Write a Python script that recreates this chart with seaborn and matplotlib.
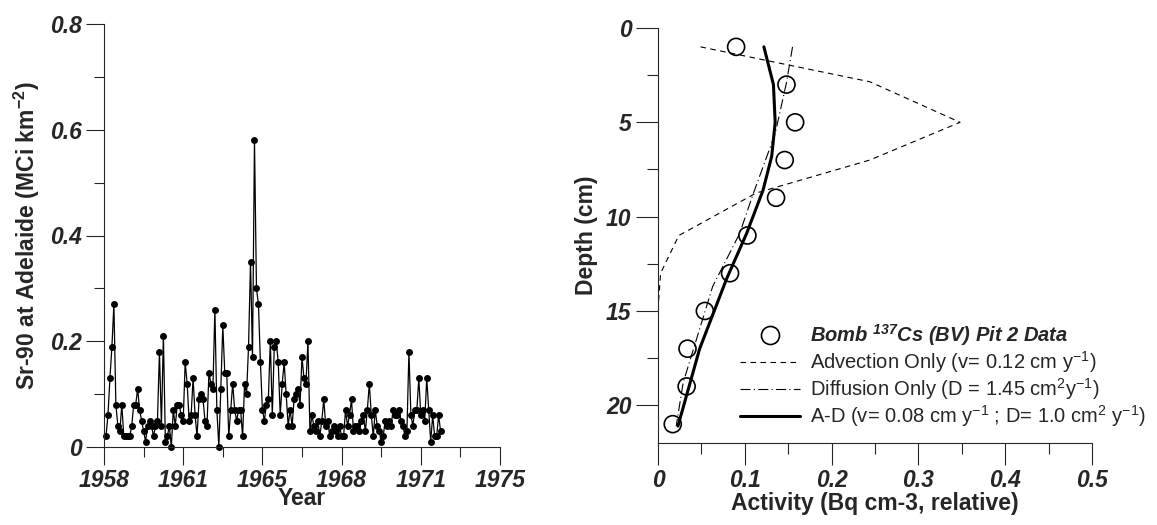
import matplotlib.pyplot as plt
import numpy as np
import seaborn as sns
from matplotlib.lines import Line2D
from matplotlib.ticker import MultipleLocator

# Sr-90 fallout at Adelaide (monthly samples)
SR90 = [
    0.02, 0.06, 0.13, 0.19, 0.27, 0.08, 0.04, 0.03, 0.08, 0.02, 0.02, 0.02, 0.02, 0.04,
    0.08, 0.08, 0.11, 0.07, 0.05, 0.03, 0.01, 0.04, 0.05, 0.04, 0.02, 0.04, 0.05, 0.18,
    0.04, 0.21, 0.01, 0.02, 0.04, 0.00, 0.07, 0.04, 0.08, 0.08, 0.06, 0.05, 0.16, 0.12,
    0.05, 0.06, 0.13, 0.06, 0.02, 0.09, 0.10, 0.09, 0.05, 0.04, 0.14, 0.12, 0.11, 0.26,
    0.07, 0.00, 0.11, 0.23, 0.14, 0.14, 0.02, 0.07, 0.12, 0.07, 0.05, 0.07, 0.07, 0.02,
    0.12, 0.10, 0.19, 0.35, 0.17, 0.58, 0.30, 0.27, 0.16, 0.07, 0.05, 0.08, 0.09, 0.20,
    0.06, 0.19, 0.20, 0.16, 0.06, 0.12, 0.16, 0.10, 0.04, 0.07, 0.04, 0.09, 0.10, 0.11,
    0.08, 0.17, 0.13, 0.12, 0.20, 0.03, 0.06, 0.04, 0.03, 0.05, 0.02, 0.05, 0.09, 0.04,
    0.05, 0.02, 0.03, 0.04, 0.03, 0.02, 0.04, 0.02, 0.02, 0.07, 0.04, 0.06, 0.09, 0.03,
    0.04, 0.04, 0.03, 0.05, 0.06, 0.03, 0.07, 0.12, 0.06, 0.02, 0.07, 0.04, 0.03, 0.01,
    0.02, 0.05, 0.04, 0.05, 0.04, 0.07, 0.06, 0.06, 0.07, 0.05, 0.04, 0.02, 0.03, 0.18,
    0.06, 0.04, 0.07, 0.07, 0.13, 0.06, 0.07, 0.05, 0.13, 0.07, 0.01, 0.06, 0.02, 0.02,
    0.06, 0.03,
]
YEAR_LABELS = ["1958", "1961", "1965", "1968", "1971", "1975"]

# 137Cs pit profile
PIT_DEPTH = [1, 3, 5, 7, 9, 11, 13, 15, 17, 19, 21]
PIT_ACTIVITY = [0.09, 0.148, 0.158, 0.146, 0.136, 0.103, 0.083, 0.054, 0.034, 0.033, 0.017]

ADV_DEPTH = [1, 2.85, 5, 7, 8.75, 11, 13, 14.9, 22]
ADV_ACTIVITY = [0.049, 0.244, 0.348, 0.244, 0.113, 0.024, 0.003, 0.0, 0.0]

DIF_DEPTH = [1, 2.9, 5.6, 8.75, 10.9, 13.7, 18.8, 21.1]
DIF_ACTIVITY = [0.155, 0.148, 0.135, 0.11, 0.094, 0.063, 0.029, 0.021]

AD_DEPTH = [1, 3, 5, 6.8, 8.6, 10.9, 13.3, 17, 21.1]
AD_ACTIVITY = [0.122, 0.133, 0.135, 0.131, 0.121, 0.102, 0.079, 0.048, 0.023]

sns.set_style("ticks")
plt.rcParams["font.family"] = ["Liberation Sans", "DejaVu Sans"]

fig = plt.figure(figsize=(11.57, 5.25), dpi=100)
ax1 = fig.add_axes([104 / 1157, 1 - 447 / 525, 396 / 1157, 423 / 525])
ax2 = fig.add_axes([658 / 1157, 1 - 443 / 525, 434 / 1157, 415 / 525])

tick_font = dict(fontsize=16.5, fontweight="bold", fontstyle="italic")
label_font = dict(fontsize=16.5, fontweight="bold")

# left panel
x_idx = np.arange(1, len(SR90) + 1)
sns.lineplot(x=x_idx, y=SR90, ax=ax1, color="black", linewidth=0.9,
             marker="o", markersize=5, markeredgewidth=0)
ax1.set_xlim(0, 200)
ax1.set_ylim(0, 0.8)
ax1.set_xticks(np.arange(0, 201, 40))
ax1.set_xticklabels(YEAR_LABELS, **tick_font)
ax1.xaxis.set_minor_locator(MultipleLocator(20))
ax1.set_yticks([0, 0.2, 0.4, 0.6, 0.8])
ax1.set_yticklabels(["0", "0.2", "0.4", "0.6", "0.8"], **tick_font)
ax1.yaxis.set_minor_locator(MultipleLocator(0.1))
ax1.set_xlabel("Year", labelpad=-4, **label_font)
ax1.set_ylabel("Sr-90 at Adelaide (MCi km$^{\\mathregular{-2}}$)", labelpad=6, **label_font)
ax1.tick_params(which="major", length=13, width=0.8, direction="out", pad=3)
ax1.tick_params(which="minor", length=7, width=0.8, direction="out")
for line in ax1.lines:
    line.set_clip_on(False)
sns.despine(ax=ax1)

# right panel
sns.scatterplot(x=PIT_ACTIVITY, y=PIT_DEPTH, ax=ax2, s=150, facecolor="none",
                edgecolor="black", linewidth=1.2, zorder=3, clip_on=False)
ax2.plot(ADV_ACTIVITY, ADV_DEPTH, color="black", linestyle=(0, (5, 4)), linewidth=0.8)
ax2.plot(DIF_ACTIVITY, DIF_DEPTH, color="black", linestyle=(0, (9, 3, 1, 3)), linewidth=0.8)
ax2.plot(AD_ACTIVITY, AD_DEPTH, color="black", linewidth=2.2)
ax2.set_xlim(0, 0.5)
ax2.set_ylim(22, 0)
ax2.set_xticks([0, 0.1, 0.2, 0.3, 0.4, 0.5])
ax2.set_xticklabels(["0", "0.1", "0.2", "0.3", "0.4", "0.5"], **tick_font)
ax2.xaxis.set_minor_locator(MultipleLocator(0.05))
ax2.set_yticks([0, 5, 10, 15, 20])
ax2.set_yticklabels(["0", "5", "10", "15", "20"], **tick_font)
ax2.yaxis.set_minor_locator(MultipleLocator(2.5))
ax2.set_xlabel("Activity (Bq cm-3, relative)", labelpad=0, **label_font)
ax2.set_ylabel("Depth (cm)", labelpad=6, **label_font)
ax2.tick_params(which="major", length=16, width=0.8, direction="out", pad=3)
ax2.tick_params(which="minor", length=8, width=0.8, direction="out")
sns.despine(ax=ax2)

handles = [
    Line2D([], [], marker="o", linestyle="none", markersize=13, markerfacecolor="none",
           markeredgecolor="black", markeredgewidth=1.2),
    Line2D([], [], color="black", linestyle=(0, (5, 4)), linewidth=0.8),
    Line2D([], [], color="black", linestyle=(0, (9, 3, 1, 3)), linewidth=0.8),
    Line2D([], [], color="black", linewidth=2.2),
]
labels = [
    "Bomb $^{\\mathregular{137}}$Cs (BV) Pit 2 Data",
    "Advection Only (v= 0.12 cm y$^{\\mathregular{-1}}$)",
    "Diffusion Only (D = 1.45 cm$^{\\mathregular{2}}$y$^{\\mathregular{-1}}$)",
    "A-D (v= 0.08 cm y$^{\\mathregular{-1}}$ ; D= 1.0 cm$^{\\mathregular{2}}$ y$^{\\mathregular{-1}}$)",
]
leg = ax2.legend(handles, labels, loc="upper left", bbox_to_anchor=(0.17, 0.31),
                 frameon=False, fontsize=14.5, handlelength=3.0, handletextpad=0.5,
                 labelspacing=0.05, borderaxespad=0)
texts = leg.get_texts()
texts[0].set_fontweight("bold")
texts[0].set_fontstyle("italic")

fig.savefig("out.png", dpi=100)
